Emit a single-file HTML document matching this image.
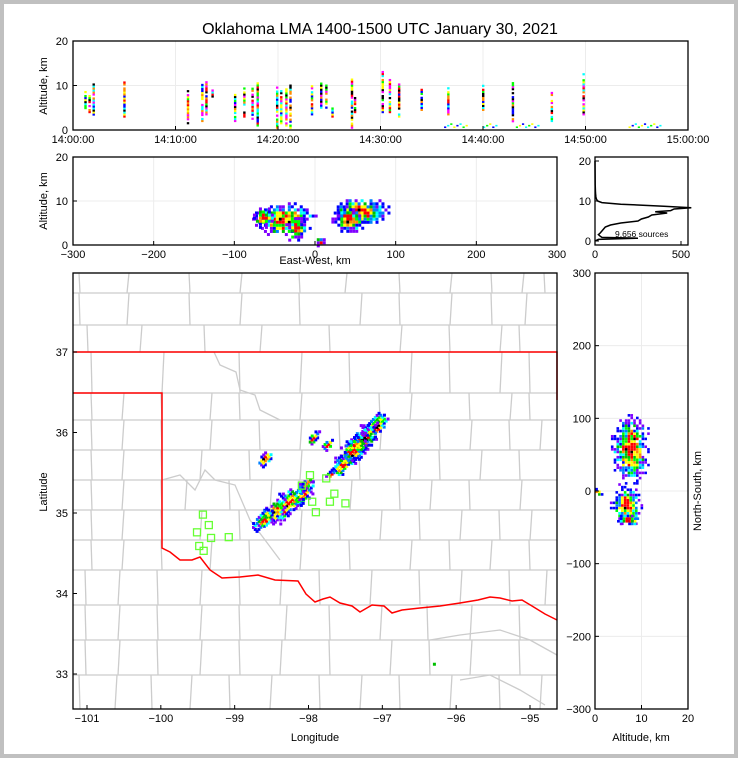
<!DOCTYPE html>
<html><head><meta charset="utf-8"><style>
html,body{margin:0;padding:0;background:#c0c0c0}
svg{display:block}
text{font-family:"Liberation Sans","DejaVu Sans",sans-serif;fill:#000}
</style></head><body>
<svg id="s" width="738" height="758" xmlns="http://www.w3.org/2000/svg">
<rect x="4" y="4" width="730" height="750" fill="#fff"/>
<text x="380" y="34" font-size="16" text-anchor="middle">Oklahoma LMA 1400-1500 UTC January 30, 2021</text>
<g id="g"></g>
</svg>
<script>
// ---------- data ----------
const burstTime=[1.2,1.6,2.0,5.0,11.2,12.6,13.0,13.6,15.8,16.7,17.5,18.0,19.9,20.3,20.8,21.2,23.3,24.2,24.7,25.3,27.2,27.5,30.2,30.9,31.8,34.0,36.6,40.0,42.9,46.7,49.8];
const burstLow=[4,4,3,3,1.5,2,3.5,7.5,2,3,2.5,1,0.5,1.5,1,0.5,3.5,5,5,3,0.5,4,4,4,3,4.5,3.5,4.5,1.5,2,3.5];
const burstHigh=[8.5,8,11.5,11,9,11,11,9,8,10,9.5,10.5,9.5,9,10,10,10,10.5,10,5,11.5,7.5,13,11.5,10.5,9,9.5,10,11,8.5,12.5];
const groundStart=[36.2,40.0,43.2,54.2];
const groundEnd=[38.5,41.3,45.5,57.3];
const ewBlobX=[-40,55,-65,5,-25,40];
const ewBlobZ=[6,8,6.5,1,4,6];
const ewBlobW=[35,33,12,5,12,18];
const ewBlobH=[3.6,3,2.2,1.2,2.5,2.5];
const histAlt=[0,0.4,0.7,0.9,1.2,1.6,2,2.5,3,3.5,4,4.5,5,5.5,6,6.5,7,7.3,7.6,8,8.3,8.7,9.2,9.6,10,10.5,11,12,14,20];
const histCount=[0,20,250,40,30,20,30,40,50,60,90,150,250,270,310,330,420,350,440,460,560,400,150,40,15,8,5,3,1,0];
const mapBlobLon=[-97.12,-97.28,-97.42,-97.55,-98.1,-98.3,-98.48,-98.62,-98.6,-97.95,-97.75,-98.03,-97.72,-96.3];
const mapBlobLat=[36.08,35.93,35.78,35.62,35.25,35.13,35.03,34.94,35.69,35.95,35.87,35.38,35.5,33.14];
const mapBlobR=[0.13,0.14,0.14,0.1,0.11,0.15,0.11,0.09,0.07,0.06,0.06,0.05,0.04,0.02];
const stationLon=[-99.43,-99.35,-99.51,-99.32,-99.08,-99.48,-99.42,-97.98,-97.76,-98.09,-97.95,-97.9,-97.71,-97.65,-97.5];
const stationLat=[34.98,34.85,34.76,34.69,34.70,34.59,34.53,35.47,35.43,35.34,35.14,35.01,35.14,35.24,35.12];
const nsBlobZ=[7.5,6.5,0.5,7];
const nsBlobY=[60,-18,0,-38];
const nsBlobW=[3.6,3,0.8,2.2];
const nsBlobH=[45,25,5,7];
const timeTicks=["14:00:00","14:10:00","14:20:00","14:30:00","14:40:00","14:50:00","15:00:00"];
const lonTicks=[-101,-100,-99,-98,-97,-96,-95];
const latTicks=[33,34,35,36,37];
const nsTicks=[-300,-200,-100,0,100,200,300];
const ewTicks=[-300,-200,-100,0,100,200,300];
const altTicks=[0,10,20];
const histTicks=[0,500];
// ---------- helpers ----------
const NS='http://www.w3.org/2000/svg';
const G=document.getElementById('g');
function el(t,a,p){const e=document.createElementNS(NS,t);for(const k in a)e.setAttribute(k,a[k]);(p||G).appendChild(e);return e;}
function lin(d0,d1,r0,r1){return v=>r0+(v-d0)*(r1-r0)/(d1-d0);}
function hsh(i,j){let h=(i*374761393+j*668265263)|0;h=(h^(h>>>13))*1274126177|0;return ((h^(h>>>16))>>>0)%1000/1000;}
const pal=['#0000ff','#00ffff','#00ff00','#ffff00','#ff0000','#000000','#ff8c00','#ff00ff'];
function blobColor(d,k){
 if(d<0.15)return (k%3==0)?'#000000':'#ff0000';
 if(d<0.32)return (k%3==0)?'#ffff00':'#ff0000';
 if(d<0.47)return (k%3==0)?'#ff8c00':'#ffff00';
 if(d<0.62)return (k%2==0)?'#00ff00':'#00c000';
 if(d<0.78)return (k%2==0)?'#00ffff':'#0080ff';
 return (k%2==0)?'#0000ff':'#8000ff';}
// draws a scattered blob in data coords via projection fns
function blob(grp,name,px,py,cx,cy,sx,sy,stepx,stepy,size,rot,seed){
 let i=0;
 for(let a=-1.3;a<=1.3;a+=stepx/sx){i++;let j=0;
  for(let b=-1.3;b<=1.3;b+=stepy/sy){j++;
   const h=hsh(i+seed*101,j+seed*37), h2=hsh(j+seed*11,i+seed*53);
   const d=Math.hypot(a,b)+(h-0.5)*0.45;
   if(d>1.05)continue;
   if(d>0.6&&h2<(d-0.5)*0.9)continue;
   let u=a*sx,v=b*sy;
   if(rot){const c=Math.cos(rot),s=Math.sin(rot);const uu=u*c-v*s,vv=u*s+v*c;u=uu;v=vv;}
   const r=el('rect',{x:px(cx+u),y:py(cy+v),width:size,height:size,fill:blobColor(Math.max(0,d),Math.floor(h2*97))},grp);
   
   
  }}}
function frame(x,y,w,h,name){el('rect',{x:x,y:y,width:w,height:h,fill:'none',stroke:'#000','stroke-width':1.3,});}
// ---------- top panel: time-height ----------
const T={x:73,y:41,w:615,h:89};
const tx=lin(0,60,T.x,T.x+T.w), tz=lin(0,20,T.y+T.h,T.y);
const gTop=el('g',{});


for(let i=1;i<6;i++)el('line',{x1:tx(i*10),x2:tx(i*10),y1:T.y,y2:T.y+T.h,stroke:'#ececec'},gTop);
el('line',{x1:T.x,x2:T.x+T.w,y1:tz(10),y2:tz(10),stroke:'#ececec'},gTop);
burstTime.forEach((t,i)=>{
 for(let z=burstLow[i],k=0;z<=burstHigh[i];z+=0.45,k++){
  if(hsh(i,k)<0.15)continue;
  const r=el('rect',{x:tx(t)-1,y:tz(z)-1.2,width:2.4,height:2.2,fill:pal[Math.floor(hsh(k,i+7)*pal.length)]},gTop);
  
  
 }});
groundStart.forEach((s,i)=>{
 for(let t=s,k=0;t<=groundEnd[i];t+=0.3,k++){
  const r=el('rect',{x:tx(t),y:tz(0.8+(k%3)*0.35),width:2.2,height:1.6,fill:pal[(k+i)%4]},gTop);
  
  
 }});
frame(T.x,T.y,T.w,T.h,'time-height-frame');
timeTicks.forEach((l,i)=>{const x=tx(i*10);el('line',{x1:x,x2:x,y1:T.y+T.h,y2:T.y+T.h-4,stroke:'#000'});
 const t=el('text',{x:x,y:T.y+T.h+13,'font-size':11,'text-anchor':'middle'});t.textContent=l;
 });
altTicks.forEach(v=>{const y=tz(v);el('line',{x1:T.x,x2:T.x+4,y1:y,y2:y,stroke:'#000'});
 const t=el('text',{x:T.x-5,y:y+4,'font-size':11,'text-anchor':'end'});t.textContent=v;
 });
{const t=el('text',{x:47,y:86,'font-size':11,'text-anchor':'middle',transform:'rotate(-90 47 86)'});t.textContent='Altitude, km';
 }
// ---------- middle panel: east-west vs alt ----------
const E={x:73,y:157,w:484,h:88};
const ex=lin(-300,300,E.x,E.x+E.w), ez=lin(0,20,E.y+E.h,E.y);
const gEW=el('g',{});


[-200,-100,0,100,200].forEach(v=>el('line',{x1:ex(v),x2:ex(v),y1:E.y,y2:E.y+E.h,stroke:'#ececec'},gEW));
el('line',{x1:E.x,x2:E.x+E.w,y1:ez(10),y2:ez(10),stroke:'#ececec'},gEW);
ewBlobX.forEach((cx,b)=>blob(gEW,'ew-source-cell',ex,ez,cx,ewBlobZ[b],ewBlobW[b],ewBlobH[b],3.7,0.7,3,0,b+1));
frame(E.x,E.y,E.w,E.h,'east-west-frame');
ewTicks.forEach(v=>{const x=ex(v);el('line',{x1:x,x2:x,y1:E.y+E.h,y2:E.y+E.h-4,stroke:'#000'});
 const t=el('text',{x:x,y:E.y+E.h+13,'font-size':11,'text-anchor':'middle'});t.textContent=(v<0?'\u2212'+(-v):v);
 });
altTicks.forEach(v=>{const y=ez(v);el('line',{x1:E.x,x2:E.x+4,y1:y,y2:y,stroke:'#000'});
 const t=el('text',{x:E.x-5,y:y+4,'font-size':11,'text-anchor':'end'});t.textContent=v;
 });
{let t=el('text',{x:47,y:201,'font-size':11,'text-anchor':'middle',transform:'rotate(-90 47 201)'});t.textContent='Altitude, km';
 
 t=el('text',{x:315,y:264,'font-size':11,'text-anchor':'middle'});t.textContent='East-West, km';
 }
// ---------- histogram ----------
const H={x:595,y:157,w:93,h:88};
const hx=lin(0,500,595,681), hz=lin(0,20,241,161);
const hp=histAlt.map((a,i)=>hx(histCount[i]).toFixed(1)+','+hz(a).toFixed(1)).join(' ');
{const p=el('polyline',{points:hp,fill:'none',stroke:'#000','stroke-width':1.5});
 }
frame(H.x,H.y,H.w,H.h,'histogram-frame');
histTicks.forEach(v=>{const x=hx(v);el('line',{x1:x,x2:x,y1:H.y+H.h,y2:H.y+H.h-4,stroke:'#000'});
 const t=el('text',{x:x,y:H.y+H.h+13,'font-size':11,'text-anchor':'middle'});t.textContent=v;
 });
altTicks.forEach(v=>{const y=hz(v);el('line',{x1:H.x,x2:H.x+4,y1:y,y2:y,stroke:'#000'});
 const t=el('text',{x:H.x-4,y:y+4,'font-size':11,'text-anchor':'end'});t.textContent=v;
 });
{const t=el('text',{x:615,y:237,'font-size':8.5});t.textContent='9,656 sources';
 }
// ---------- map ----------
const M={x:73,y:273,w:484,h:436};
const mx=lin(-101,-95,87,530), my=lin(37,33,352,674);
const gMap=el('g',{});


const rows=[[273,293,[80,127,190,240,300,345,400,450,492,522,545]],[293,325,[80,127,190,240,300,360,400,450,492,525]],[325,352,[88,140,205,260,330,400,450,500,520]],
[352,393,[92,162,240,300,350,410,450,500,530]],[393,420,[92,122,162,210,240,300,380,410,470,510,530]],[420,450,[92,122,162,210,260,300,340,380,440,470,510,540]],
[450,480,[92,122,162,200,250,300,360,410,440,480,520]],[480,510,[92,122,162,185,230,270,300,350,400,430,470,520]],[510,540,[92,122,162,200,240,300,340,380,420,460,500,530]],
[540,570,[92,122,162,210,250,300,350,410,450,490,530]],[570,605,[86,118,158,200,240,280,320,370,420,460,510,545]],[605,640,[86,118,158,200,240,285,330,380,428,470,520]],
[640,675,[86,118,158,200,240,280,330,390,430,470,520]],[675,709,[80,115,152,190,230,270,320,360,400,450,500,540]]];
rows.forEach(r=>{el('line',{x1:M.x,x2:M.x+M.w,y1:r[0],y2:r[0],stroke:'#cccccc','stroke-width':1.3},gMap);
 r[2].forEach((x,j)=>el('line',{x1:x+(j%2?2:-1),x2:x,y1:r[0],y2:r[1],stroke:'#cccccc','stroke-width':1.3},gMap));});
el('polyline',{points:'214,352 220,365 236,372 240,390 255,395 260,410 280,420',fill:'none',stroke:'#cccccc','stroke-width':1.3},gMap);
el('polyline',{points:'162,480 180,475 195,490 205,470 215,480 235,485 250,520 280,560',fill:'none',stroke:'#cccccc','stroke-width':1.3},gMap);
el('polyline',{points:'430,640 460,635 500,630 530,640 557,655',fill:'none',stroke:'#cccccc','stroke-width':1.3},gMap);
el('polyline',{points:'460,680 490,675 520,690 545,705',fill:'none',stroke:'#cccccc','stroke-width':1.3},gMap);
{const p=el('polyline',{points:'73,352 557,352 557,400',fill:'none',stroke:'#ff0000','stroke-width':1.5});
 
 const q=el('polyline',{points:'73,393 162,393 162,548 170,552 180,560 192,560 200,557 210,570 222,578 240,577 258,575 275,580 298,581 306,594 315,602 323,599 330,597 340,603 352,606 360,612 372,605 384,606 392,613 402,610 420,608 440,606 460,603 478,600 490,597 500,598 512,601 522,600 532,606 545,614 557,620',fill:'none',stroke:'#ff0000','stroke-width':1.5});
 }
mapBlobLon.forEach((clon,b)=>blob(gMap,'map-source-cell',mx,my,clon,mapBlobLat[b],mapBlobR[b]*1.8,mapBlobR[b]*0.9,0.036,0.034,3,Math.PI/4,b+20));
stationLon.forEach((lo,i)=>{const r=el('rect',{x:mx(lo)-3.5,y:my(stationLat[i])-3.5,width:7,height:7,fill:'none',stroke:'#66ff33','stroke-width':1.3},gMap);
 });
frame(M.x,M.y,M.w,M.h,'map-frame');
lonTicks.forEach(v=>{const x=mx(v);el('line',{x1:x,x2:x,y1:M.y+M.h,y2:M.y+M.h-4,stroke:'#000'});
 const t=el('text',{x:x,y:M.y+M.h+13,'font-size':11,'text-anchor':'middle'});t.textContent='\u2212'+(-v);
 });
latTicks.forEach(v=>{const y=my(v);el('line',{x1:M.x,x2:M.x+4,y1:y,y2:y,stroke:'#000'});
 const t=el('text',{x:M.x-5,y:y+4,'font-size':11,'text-anchor':'end'});t.textContent=v;
 });
{let t=el('text',{x:315,y:741,'font-size':11,'text-anchor':'middle'});t.textContent='Longitude';
 
 t=el('text',{x:47,y:492,'font-size':11,'text-anchor':'middle',transform:'rotate(-90 47 492)'});t.textContent='Latitude';
 }
// ---------- right panel: alt vs north-south ----------
const N={x:595,y:273,w:93,h:436};
const nx=lin(0,20,595,688), ny=lin(-300,300,709,273);
const gNS=el('g',{});


el('line',{x1:nx(10),x2:nx(10),y1:N.y,y2:N.y+N.h,stroke:'#ececec'},gNS);
[-200,-100,0,100,200].forEach(v=>el('line',{x1:N.x,x2:N.x+N.w,y1:ny(v),y2:ny(v),stroke:'#ececec'},gNS));
nsBlobZ.forEach((cz,b)=>blob(gNS,'ns-source-cell',nx,ny,cz,nsBlobY[b],nsBlobW[b],nsBlobH[b],0.6,3.6,2.6,0,b+40));
frame(N.x,N.y,N.w,N.h,'north-south-frame');
[0,10,20].forEach(v=>{const x=nx(v);el('line',{x1:x,x2:x,y1:N.y+N.h,y2:N.y+N.h-4,stroke:'#000'});
 const t=el('text',{x:x,y:N.y+N.h+13,'font-size':11,'text-anchor':'middle'});t.textContent=v;
 });
nsTicks.forEach(v=>{const y=ny(v);el('line',{x1:N.x,x2:N.x+4,y1:y,y2:y,stroke:'#000'});
 const t=el('text',{x:N.x-4,y:y+4,'font-size':11,'text-anchor':'end'});t.textContent=(v<0?'\u2212'+(-v):v);
 });
{let t=el('text',{x:641,y:741,'font-size':11,'text-anchor':'middle'});t.textContent='Altitude, km';
 
 t=el('text',{x:701,y:491,'font-size':11,'text-anchor':'middle',transform:'rotate(-90 701 491)'});t.textContent='North-South, km';
 }
</script>
</body></html>
